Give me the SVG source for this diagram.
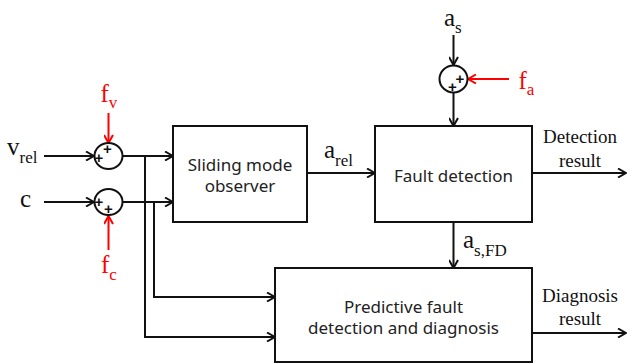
<svg xmlns="http://www.w3.org/2000/svg" width="627" height="364" viewBox="0 0 627 364">
<style>
.box{fill:#fff;stroke:#111;stroke-width:2}
.sum{fill:none;stroke:#111;stroke-width:2}
.ln{fill:none;stroke:#111;stroke-width:2;marker-end:url(#ah)}
.red{fill:none;stroke:#ff0000;stroke-width:2;marker-end:url(#ahr)}
.bt{font-family:"Noto Sans","Liberation Sans",sans-serif;font-size:17px;fill:#222;text-anchor:middle}
.lb{font-family:"Liberation Serif","Times New Roman",serif;font-size:25px;fill:#111}
.lr{font-family:"Liberation Serif","Times New Roman",serif;font-size:25px;fill:#ff0000}
.out{font-family:"Liberation Serif","Times New Roman",serif;font-size:19px;fill:#111;text-anchor:middle}
.pl{font-family:"Liberation Sans",Arial,sans-serif;font-size:15px;font-weight:bold;fill:#111;text-anchor:middle}
.sub{font-size:17px}
</style>
<defs>
<marker id="ah" viewBox="0 0 10 10" markerWidth="10" markerHeight="10" refX="9" refY="5" orient="auto" markerUnits="userSpaceOnUse">
<path d="M1,0.5 L9,5 L1,9.5" fill="none" stroke="#111" stroke-width="2"/>
</marker>
<marker id="ahr" viewBox="0 0 10 10" markerWidth="10" markerHeight="10" refX="9" refY="5" orient="auto" markerUnits="userSpaceOnUse">
<path d="M1,0.5 L9,5 L1,9.5" fill="none" stroke="#ff0000" stroke-width="2"/>
</marker>
</defs>

<g id="connectors">
<line class="ln" x1="44" y1="156" x2="94" y2="156"/>
<line class="ln" x1="44" y1="202" x2="94" y2="202"/>
<line class="ln" x1="123" y1="156" x2="173" y2="156"/>
<line class="ln" x1="123" y1="202" x2="173" y2="202"/>
<polyline class="ln" points="145,156 145,337 275,337"/>
<polyline class="ln" points="154,202 154,297 275,297"/>
<line class="ln" x1="307" y1="173" x2="375" y2="173"/>
<line class="ln" x1="532" y1="173" x2="626" y2="173"/>
<line class="ln" x1="453.5" y1="35" x2="453.5" y2="65"/>
<line class="ln" x1="453.5" y1="93" x2="453.5" y2="126"/>
<line class="ln" x1="453.5" y1="222" x2="453.5" y2="268"/>
<line class="ln" x1="532" y1="333" x2="626" y2="333"/>
<line class="red" x1="108.5" y1="113" x2="108.5" y2="143"/>
<line class="red" x1="108.5" y1="250" x2="108.5" y2="216"/>
<line class="red" x1="509" y1="79" x2="468" y2="79"/>
</g>

<g id="sum1">
<ellipse class="sum" cx="108.5" cy="156" rx="14" ry="13"/>
<text class="pl" x="107.5" y="154">+</text>
<text class="pl" x="99" y="162.5">+</text>
</g>
<g id="sum2">
<ellipse class="sum" cx="108.5" cy="202" rx="14" ry="13"/>
<text class="pl" x="99" y="206.5">+</text>
<text class="pl" x="108.5" y="213.5">+</text>
</g>
<g id="sum3">
<ellipse class="sum" cx="453.5" cy="79" rx="14" ry="13.5"/>
<text class="pl" x="460" y="84">+</text>
<text class="pl" x="452.5" y="92">+</text>
</g>

<g id="smo">
<rect class="box" x="173" y="126" width="134" height="96"/>
<text class="bt" x="240" y="171">Sliding mode</text>
<text class="bt" x="240" y="192">observer</text>
</g>
<g id="fd">
<rect class="box" x="375" y="126" width="157" height="96"/>
<text class="bt" x="453.5" y="182">Fault detection</text>
</g>
<g id="pfdd">
<rect class="box" x="275" y="268" width="257" height="94"/>
<text class="bt" x="403.5" y="313">Predictive fault</text>
<text class="bt" x="403.5" y="334">detection and diagnosis</text>
</g>

<g id="labels">
<text class="lb" x="7" y="155">v<tspan class="sub" dy="8">rel</tspan></text>
<text class="lb" x="20" y="207">c</text>
<text class="lb" x="324" y="158">a<tspan class="sub" dy="8">rel</tspan></text>
<text class="lb" x="444" y="26">a<tspan class="sub" dy="7">s</tspan></text>
<text class="lb" x="463" y="248">a<tspan class="sub" dy="8">s,FD</tspan></text>
<text class="lr" x="100.5" y="102">f<tspan class="sub" dy="6">v</tspan></text>
<text class="lr" x="101" y="273">f<tspan class="sub" dy="7">c</tspan></text>
<text class="lr" x="518.5" y="89">f<tspan class="sub" dy="6">a</tspan></text>
<text class="out" x="580" y="143">Detection</text>
<text class="out" x="580" y="167">result</text>
<text class="out" x="580" y="302">Diagnosis</text>
<text class="out" x="580" y="325">result</text>
</g>
</svg>
